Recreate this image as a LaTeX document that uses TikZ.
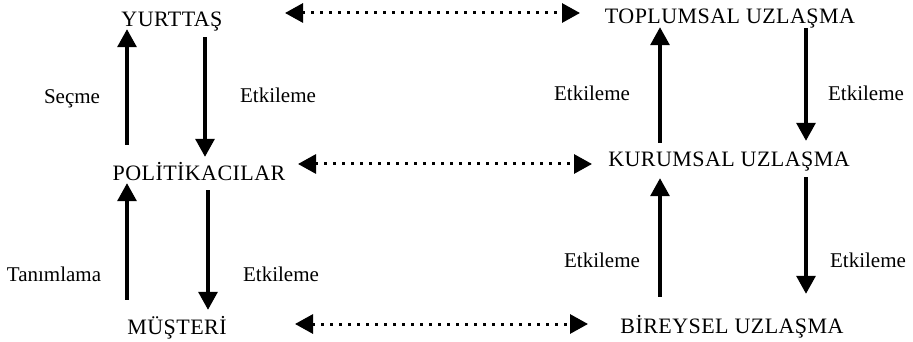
\documentclass[tikz,border=0pt]{standalone}
\usepackage{fontspec}
\setmainfont{Liberation Serif}
\newfontfamily\capsfont[LetterSpace=2]{Liberation Serif}
\usetikzlibrary{arrows.meta}
\begin{document}
\begin{tikzpicture}[x=1pt,y=-1pt,
  lbl/.style={inner sep=0pt, text height=14pt, text depth=3pt, font=\fontsize{21}{25}\selectfont},
  capnode/.style={inner sep=0pt, text height=14pt, text depth=3pt, font=\capsfont\fontsize{22}{26}\selectfont},
  varrow/.style={line width=3.2pt, -{Triangle[length=18pt,width=19pt]}},
  dotarr/.style={line width=3pt, dash pattern=on 3pt off 6pt,
    {Triangle[length=18pt,width=19pt]}-{Triangle[length=18pt,width=19pt]}}]
\useasboundingbox (0,0) rectangle (913,342);
% main nodes
\node[capnode] (yurt)   at (172,21)    {YURTTAŞ};
\node[capnode] (toplum) at (730,18.5)  {TOPLUMSAL UZLAŞMA};
\node[capnode] (pol)    at (199,174.5) {POLİTİKACILAR};
\node[capnode] (kurum)  at (729,161.5) {KURUMSAL UZLAŞMA};
\node[capnode] (must)   at (177,328.5) {MÜŞTERİ};
\node[capnode] (birey)  at (732,328)   {BİREYSEL UZLAŞMA};
% labels
\node[lbl] (l1) at (72,98.5)   {Seçme};
\node[lbl] (l2) at (278,97.5)  {Etkileme};
\node[lbl] (l3) at (54,275.5)  {Tanımlama};
\node[lbl] (l4) at (281,275.5) {Etkileme};
\node[lbl] (r1) at (592,95.5)  {Etkileme};
\node[lbl] (r2) at (866,95.5)  {Etkileme};
\node[lbl] (r3) at (602,261.5) {Etkileme};
\node[lbl] (r4) at (868,261.5) {Etkileme};
% column coordinates
\coordinate (cL) at (127,0);
\coordinate (cM) at (205,0);
\coordinate (cN) at (208,0);
\coordinate (cR) at (660,0);
\coordinate (cS) at (806,0);
% vertical arrows, left
\draw[varrow, shorten <=21pt, shorten >=-0.5pt] (pol.north -| cL) -- (yurt.south -| cL);
\draw[varrow, shorten <=7.5pt, shorten >=9pt] (yurt.south -| cM) -- (pol.north -| cM);
\draw[varrow, shorten <=20pt, shorten >=0pt] (must.north -| cL) -- (pol.south -| cL);
\draw[varrow, shorten <=7pt, shorten >=10pt] (pol.south -| cN) -- (must.north -| cN);
% vertical arrows, right
\draw[varrow, shorten <=10pt, shorten >=0pt] (kurum.north -| cR) -- (toplum.south -| cR);
\draw[varrow, shorten <=1pt, shorten >=12pt] (toplum.south -| cS) -- (kurum.north -| cS);
\draw[varrow, shorten <=22.5pt, shorten >=8pt] (birey.north -| cR) -- (kurum.south -| cR);
\draw[varrow, shorten <=7pt, shorten >=25.5pt] (kurum.south -| cS) -- (birey.north -| cS);
% dotted double arrows
\coordinate (t1) at (285,13);
\coordinate (t2) at (580,13);
\coordinate (m1) at (298,164);
\coordinate (m2) at (592,164);
\coordinate (b1) at (295,324);
\coordinate (b2) at (588,324);
\draw[dotarr] (t1) -- (t2);
\draw[dotarr] (m1) -- (m2);
\draw[dotarr] (b1) -- (b2);
\end{tikzpicture}
\end{document}
